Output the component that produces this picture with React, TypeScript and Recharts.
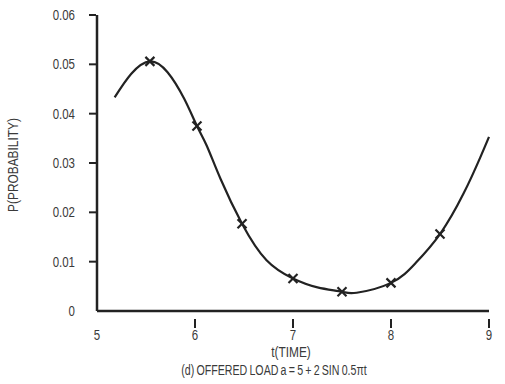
import React from 'react';
import { ComposedChart, Line, Scatter, XAxis, YAxis } from 'recharts';

// smooth curve
const curveT = [5.18, 5.35, 5.54, 5.72, 5.89, 6.02, 6.12, 6.26, 6.48, 6.73, 7.0, 7.25, 7.5, 7.65, 8.0, 8.25, 8.5, 8.74, 8.91, 9.0];
const curveP = [0.0433, 0.0481, 0.0506, 0.0484, 0.043, 0.0375, 0.0335, 0.0268, 0.0177, 0.0103, 0.0066, 0.0048, 0.0039, 0.0037, 0.0057, 0.0097, 0.0156, 0.0238, 0.0311, 0.0353];

// x-marked sample points
const markT = [5.54, 6.02, 6.48, 7.0, 7.5, 8.0, 8.5];
const markP = [0.0506, 0.0375, 0.0177, 0.0066, 0.0039, 0.0057, 0.0156];

const xTicks = [5, 6, 7, 8, 9];
const yTicks = [0, 0.01, 0.02, 0.03, 0.04, 0.05, 0.06];

const curve = curveT.map((t, i) => ({ t, p: curveP[i] }));
const marks = markT.map((t, i) => ({ t, p: markP[i] }));

const font = '"Liberation Sans", Arial, sans-serif';
const ink = '#222';
const textInk = '#3a3a3a';
const squeeze = 0.82;

const XTick = (props: any) => {
  const { x, y, payload } = props;
  const v = payload.value;
  return (
    <g>
      {v !== 5 && <line x1={x} y1={y} x2={x} y2={y + 9} stroke={ink} strokeWidth={2} />}
      <text
        transform={`translate(${x},${y + 21}) scale(${squeeze},1)`}
        textAnchor="middle"
        fontSize={14}
        fontFamily={font}
        fill={textInk}
      >
        {v}
      </text>
    </g>
  );
};

const YTick = (props: any) => {
  const { x, y, payload } = props;
  const v = payload.value;
  return (
    <g>
      {v !== 0 && <line x1={x} y1={y} x2={x + 7} y2={y} stroke={ink} strokeWidth={2} />}
      <text
        transform={`translate(${x - 14},${y + 5}) scale(${squeeze},1)`}
        textAnchor="end"
        fontSize={14}
        fontFamily={font}
        fill={textInk}
      >
        {v === 0 ? '0' : v.toFixed(2)}
      </text>
    </g>
  );
};

const Cross = (props: any) => {
  const { cx, cy } = props;
  const s = 4.5;
  return (
    <g stroke={ink} strokeWidth={2.2}>
      <line x1={cx - s} y1={cy - s} x2={cx + s} y2={cy + s} />
      <line x1={cx - s} y1={cy + s} x2={cx + s} y2={cy - s} />
    </g>
  );
};

const label: React.CSSProperties = {
  position: 'absolute',
  fontFamily: font,
  fontSize: 14,
  color: textInk,
  whiteSpace: 'nowrap',
};

export default function App() {
  return (
    <div style={{ position: 'absolute', left: 0, top: 0, width: 505, height: 384, background: '#fff' }}>
      <ComposedChart width={505} height={384} margin={{ top: 15, right: 16, left: 0, bottom: 43 }}>
        <XAxis
          dataKey="t"
          type="number"
          domain={[5, 9]}
          ticks={xTicks}
          axisLine={{ stroke: ink, strokeWidth: 2.5 }}
          tickLine={false}
          tick={<XTick />}
          height={30}
        />
        <YAxis
          dataKey="p"
          type="number"
          domain={[0, 0.06]}
          ticks={yTicks}
          axisLine={{ stroke: ink, strokeWidth: 2.5 }}
          tickLine={false}
          tick={<YTick />}
          width={97}
        />
        <Line
          data={curve}
          dataKey="p"
          type="natural"
          stroke={ink}
          strokeWidth={2.2}
          dot={false}
          activeDot={false}
          isAnimationActive={false}
        />
        <Scatter data={marks} dataKey="p" shape={<Cross />} isAnimationActive={false} />
      </ComposedChart>
      <div style={{ ...label, left: 13, top: 165, transform: 'translate(-50%, -50%) rotate(-90deg) scale(0.85,1)' }}>
        P(PROBABILITY)
      </div>
      <div style={{ ...label, left: 291, top: 344, transform: 'translateX(-50%) scale(0.85,1)' }}>
        t(TIME)
      </div>
      <div style={{ ...label, left: 274, top: 362, transform: 'translateX(-50%) scale(0.76,1)', wordSpacing: -1 }}>
        (d) OFFERED LOAD a = 5 + 2 SIN 0.5πt
      </div>
    </div>
  );
}
